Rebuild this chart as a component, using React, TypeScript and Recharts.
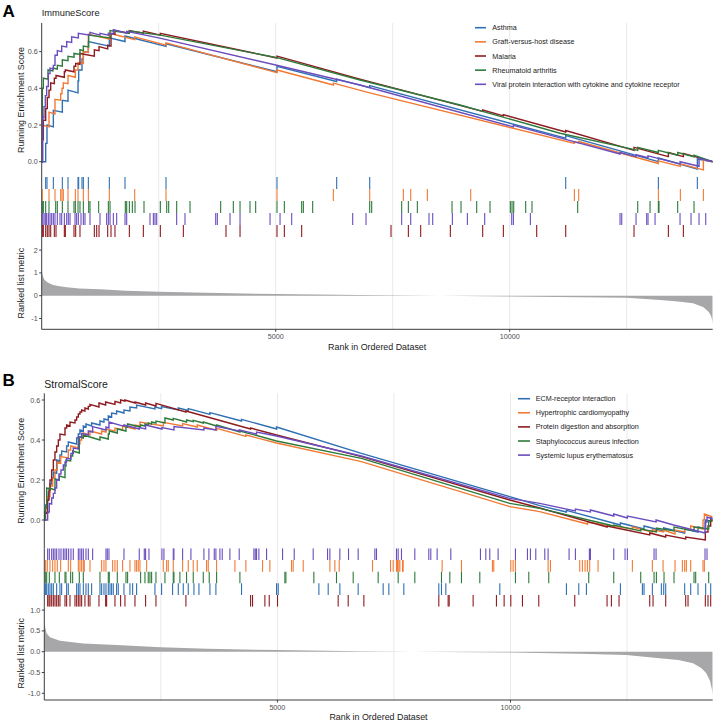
import React from 'react';
import { LineChart, Line, XAxis, YAxis, ReferenceLine, ScatterChart, Scatter, AreaChart, Area } from 'recharts';

const W = 719;
const H = 727;
const N_RANKS = 14338;
const GRID_RANKS = [2500, 5000, 7500, 10000, 12500];
const RANK_TICKS = [5000, 10000];
const ES_TICKS = [0, 0.2, 0.4, 0.6];

// ---------------- Panel A : ImmuneScore ----------------
const termsA = ['Asthma', 'Graft-versus-host disease', 'Malaria', 'Rheumatoid arthritis', 'Viral protein interaction with cytokine and cytokine receptor'];
const colorsA = ['#2f6fb3', '#f27a35', '#8e1b1f', '#2d7a3a', '#6a4dbf'];

const esAsthma = [[0,0],[85,0],[85,0.10],[113,0.10],[113,0.20],[249,0.19],[249,0.28],[441,0.27],[441,0.335],[562,0.33],[562,0.39],[776,0.375],[776,0.44],[790,0.44],[790,0.50],[861,0.50],[861,0.56],[890,0.56],[890,0.60],[997,0.595],[997,0.655],[1445,0.63],[1445,0.675],[1780,0.655],[1780,0.685],[2656,0.628],[2656,0.643],[5028,0.49],[5028,0.52],[6303,0.437],[6303,0.45],[7009,0.404],[7009,0.415],[11197,0.128],[11197,0.142],[13177,0.0],[13177,0.02],[14010,-0.04],[14010,0.015],[14338,0.0]];
const esGraft = [[0,0],[14,0],[14,0.20],[156,0.19],[156,0.27],[284,0.26],[284,0.34],[405,0.335],[405,0.37],[434,0.37],[434,0.40],[462,0.40],[462,0.43],[562,0.425],[562,0.47],[719,0.46],[719,0.50],[776,0.50],[776,0.54],[890,0.535],[890,0.60],[997,0.595],[997,0.695],[1445,0.668],[1445,0.70],[1987,0.665],[1987,0.68],[2656,0.635],[2656,0.648],[5028,0.485],[5028,0.50],[6232,0.418],[6232,0.428],[7009,0.375],[11382,0.10],[11382,0.108],[11475,0.103],[11475,0.11],[13177,-0.01],[13177,0.005],[13647,-0.026],[13647,-0.012],[14139,-0.045],[14139,0.01],[14338,0.0]];
const esMalaria = [[0,0],[14,0],[14,0.12],[35,0.12],[35,0.227],[85,0.225],[85,0.29],[120,0.29],[120,0.35],[156,0.35],[156,0.39],[192,0.39],[192,0.43],[270,0.425],[270,0.455],[306,0.455],[306,0.47],[484,0.46],[484,0.49],[505,0.49],[505,0.50],[690,0.49],[690,0.52],[726,0.52],[726,0.536],[818,0.53],[818,0.59],[1125,0.575],[1125,0.61],[1225,0.605],[1225,0.627],[1410,0.615],[1410,0.635],[1481,0.63],[1481,0.70],[1566,0.695],[1566,0.715],[1873,0.70],[1873,0.715],[2172,0.70],[2172,0.712],[2535,0.69],[2535,0.70],[5028,0.565],[5028,0.575],[6802,0.45],[9423,0.274],[9423,0.282],[9865,0.25],[9865,0.256],[11197,0.162],[11197,0.17],[12657,0.062],[12657,0.078],[13391,0.028],[13391,0.05],[13711,0.028],[13711,0.045],[14338,0.0]];
const esRheum = [[0,0],[14,0],[14,0.40],[35,0.40],[35,0.455],[135,0.45],[135,0.50],[240,0.495],[240,0.51],[334,0.505],[334,0.525],[441,0.52],[441,0.555],[562,0.55],[562,0.575],[690,0.57],[690,0.59],[818,0.585],[818,0.61],[890,0.605],[890,0.63],[1004,0.625],[1004,0.69],[1460,0.675],[1460,0.715],[1873,0.70],[1873,0.712],[2535,0.69],[5028,0.567],[6802,0.445],[8939,0.309],[11076,0.155],[12500,0.075],[12736,0.062],[12736,0.078],[13177,0.05],[13177,0.062],[13590,0.035],[13590,0.05],[13939,0.026],[13939,0.035],[14338,0.0]];
const esViral = [[0,0],[21,0],[21,0.245],[49,0.24],[49,0.30],[78,0.30],[78,0.36],[106,0.36],[106,0.41],[142,0.41],[142,0.48],[177,0.48],[177,0.51],[249,0.505],[249,0.525],[284,0.525],[284,0.58],[334,0.58],[334,0.605],[427,0.60],[427,0.63],[534,0.625],[534,0.655],[640,0.65],[640,0.68],[783,0.675],[783,0.70],[1032,0.69],[1032,0.705],[1246,0.69],[1246,0.70],[1424,0.69],[1424,0.70],[1531,0.695],[1531,0.72],[1816,0.70],[1816,0.71],[2500,0.675],[5000,0.527],[6802,0.418],[10079,0.19],[10079,0.198],[11076,0.13],[12358,0.042],[12358,0.05],[12700,0.028],[12700,0.038],[12956,0.022],[12956,0.032],[13640,-0.012],[13640,0.0],[14046,-0.025],[14046,0.018],[14338,0.0]];

const hitsAsthma = [85,113,249,441,562,776,790,861,890,997,1445,1780,2656,5028,6303,7009,11197,13177,14010];
const hitsGraft = [14,156,284,405,434,462,562,719,776,890,997,1445,1987,2656,5028,6232,7009,7728,7885,8241,9167,11382,11475,13177,13647,14139];
const hitsMalaria = [14,35,85,120,156,192,270,306,484,505,690,726,818,1125,1175,1225,1410,1481,1566,1873,2172,2535,3027,3938,4238,5028,5185,5555,7464,7835,8098,8732,9423,9865,10577,11197,12657,13391,13711];
const hitsRheum = [14,35,85,156,299,334,441,562,690,719,776,818,890,1004,1032,1217,1424,1460,1787,1816,1873,1937,1994,2186,2535,2671,2713,2884,3169,3824,4095,4238,4451,4572,5028,5185,5555,5591,5790,7009,7051,7692,7835,8027,8768,8960,9295,9580,10014,10050,10086,10342,10477,11453,12736,12999,13177,13191,13590,13939];
const hitsViral = [21,49,78,106,142,177,213,249,284,334,391,427,484,534,569,605,712,747,783,840,890,925,1032,1246,1388,1424,1460,1531,1602,1780,1816,2314,2386,2421,2457,2884,3062,3718,3753,4024,4238,4879,5093,5342,6645,6930,7692,7885,8276,8355,8775,9096,9466,10043,10079,10442,12358,12394,12700,12928,12956,13106,13640,13875,14046,14189];
const rugOrderA = [0, 1, 3, 4, 2];

const metricA = [[0,1.25],[5,1.05],[15,0.95],[30,0.83],[60,0.7],[107,0.61],[170,0.53],[249,0.47],[350,0.42],[534,0.37],[800,0.32],[1246,0.28],[1800,0.22],[2500,0.175],[3500,0.125],[5000,0.075],[6802,0.03],[8500,0.0],[10000,-0.035],[11500,-0.065],[12500,-0.09],[13213,-0.19],[13600,-0.25],[13918,-0.33],[14132,-0.5],[14250,-0.7],[14300,-0.87],[14330,-1.1],[14338,-1.28]];

// ---------------- Panel B : StromalScore ----------------
const termsB = ['ECM-receptor interaction', 'Hypertrophic cardiomyopathy', 'Protein digestion and absorption', 'Staphylococcus aureus infection', 'Systemic lupus erythematosus'];
const colorsB = ['#2f6fb3', '#f27a35', '#8e1b1f', '#2d7a3a', '#6a4dbf'];

const esECM = [[0,0],[8,0],[8,0.04],[29,0.04],[29,0.075],[51,0.075],[51,0.10],[86,0.10],[86,0.14],[122,0.14],[122,0.18],[158,0.18],[158,0.21],[194,0.21],[194,0.24],[265,0.235],[265,0.30],[336,0.295],[336,0.325],[372,0.325],[372,0.345],[479,0.34],[479,0.37],[515,0.37],[515,0.39],[694,0.38],[694,0.41],[730,0.41],[730,0.43],[765,0.43],[765,0.45],[837,0.445],[837,0.47],[894,0.465],[894,0.48],[1015,0.47],[1015,0.485],[1194,0.475],[1194,0.495],[1280,0.49],[1280,0.505],[1373,0.50],[1373,0.52],[1444,0.515],[1444,0.535],[1551,0.53],[1551,0.545],[1709,0.535],[1709,0.55],[1837,0.545],[1837,0.565],[1980,0.56],[1980,0.575],[2373,0.555],[2373,0.565],[2516,0.557],[2516,0.567],[2874,0.55],[2874,0.56],[3088,0.548],[3088,0.557],[3553,0.528],[3553,0.537],[4231,0.495],[4231,0.503],[4982,0.455],[4982,0.465],[6802,0.333],[9985,0.117],[10628,0.072],[11200,0.04],[11200,0.048],[12358,-0.025],[12358,-0.015],[12865,-0.045],[12865,-0.03],[13287,-0.055],[13287,-0.04],[13737,-0.065],[13737,-0.045],[14023,-0.06],[14023,-0.035],[14187,-0.045],[14187,0.0],[14295,-0.005],[14295,0.02],[14338,0.0]];
const esHyper = [[0,0],[29,0],[29,0.06],[65,0.06],[65,0.117],[122,0.117],[122,0.17],[179,0.17],[179,0.21],[229,0.21],[229,0.25],[279,0.25],[279,0.29],[351,0.285],[351,0.317],[515,0.31],[515,0.35],[565,0.35],[565,0.37],[730,0.36],[730,0.38],[765,0.38],[765,0.40],[801,0.40],[801,0.42],[837,0.42],[837,0.435],[980,0.425],[980,0.445],[1230,0.43],[1230,0.445],[1323,0.44],[1323,0.455],[1516,0.445],[1516,0.46],[1680,0.452],[1680,0.47],[1945,0.455],[1945,0.475],[2052,0.47],[2052,0.49],[2552,0.47],[2552,0.488],[2967,0.47],[2967,0.482],[3281,0.465],[3281,0.475],[3696,0.448],[3696,0.458],[4324,0.418],[4324,0.425],[4982,0.385],[6802,0.292],[9985,0.067],[10628,0.042],[11650,-0.02],[11650,-0.012],[12615,-0.045],[12615,-0.035],[13044,-0.06],[13044,-0.048],[13273,-0.06],[13273,-0.05],[13530,-0.07],[13530,-0.05],[13737,-0.06],[13737,-0.04],[13866,-0.05],[13866,-0.03],[14130,-0.045],[14130,0.0],[14159,0.0],[14159,0.03],[14338,0.015]];
const esProtein = [[0,0],[15,0],[15,0.04],[72,0.035],[72,0.10],[101,0.10],[101,0.15],[122,0.15],[122,0.20],[158,0.20],[158,0.25],[194,0.25],[194,0.30],[229,0.30],[229,0.34],[265,0.34],[265,0.37],[301,0.37],[301,0.40],[336,0.40],[336,0.43],[444,0.425],[444,0.46],[479,0.46],[479,0.475],[551,0.47],[551,0.49],[658,0.485],[658,0.50],[694,0.50],[694,0.515],[730,0.515],[730,0.53],[765,0.53],[765,0.54],[801,0.54],[801,0.55],[872,0.545],[872,0.56],[944,0.555],[944,0.568],[980,0.568],[980,0.578],[1173,0.565],[1173,0.585],[1316,0.575],[1316,0.59],[1516,0.578],[1516,0.593],[1637,0.585],[1637,0.60],[1730,0.595],[1730,0.60],[1945,0.585],[1945,0.59],[2173,0.575],[2173,0.585],[2395,0.57],[2395,0.583],[3038,0.54],[3038,0.545],[4425,0.455],[4425,0.46],[4982,0.425],[6802,0.317],[9985,0.10],[10628,0.06],[12072,-0.035],[12072,-0.03],[12486,-0.05],[12987,-0.075],[12987,-0.065],[13330,-0.085],[13330,-0.075],[13759,-0.095],[13759,-0.085],[14180,-0.10],[14180,-0.06],[14237,-0.06],[14237,-0.03],[14295,-0.03],[14295,0.0],[14338,-0.005]];
const esStaph = [[0,0],[22,0],[22,0.06],[51,0.06],[51,0.16],[108,0.155],[108,0.16],[229,0.15],[229,0.205],[322,0.2],[322,0.22],[444,0.212],[444,0.27],[465,0.27],[465,0.30],[565,0.295],[565,0.32],[608,0.32],[608,0.345],[751,0.335],[751,0.415],[837,0.41],[837,0.425],[1194,0.40],[1194,0.415],[1373,0.405],[1373,0.43],[1394,0.43],[1394,0.445],[1566,0.435],[1566,0.455],[1752,0.445],[1752,0.465],[1787,0.465],[1787,0.48],[2066,0.465],[2066,0.475],[2159,0.47],[2159,0.48],[2230,0.475],[2230,0.485],[2302,0.48],[2302,0.49],[2395,0.485],[2395,0.495],[2588,0.485],[2588,0.51],[2766,0.50],[2766,0.508],[3052,0.49],[3052,0.50],[3195,0.492],[3195,0.498],[3410,0.485],[3410,0.49],[3696,0.47],[3696,0.475],[4196,0.44],[4196,0.445],[4982,0.395],[6802,0.308],[9985,0.083],[10628,0.058],[12215,-0.03],[12215,-0.025],[12794,-0.055],[12794,-0.045],[13130,-0.06],[13130,-0.04],[13508,-0.055],[13508,-0.035],[13937,-0.055],[13937,-0.035],[14252,-0.045],[14252,-0.005],[14338,-0.005]];
const esSLE = [[0,0],[72,0],[72,0.04],[108,0.04],[108,0.083],[158,0.08],[158,0.11],[194,0.11],[194,0.133],[229,0.133],[229,0.16],[265,0.16],[265,0.2],[315,0.2],[315,0.23],[358,0.23],[358,0.25],[408,0.25],[408,0.275],[444,0.275],[444,0.29],[479,0.29],[479,0.308],[572,0.305],[572,0.333],[622,0.333],[622,0.36],[730,0.355],[730,0.417],[801,0.415],[801,0.433],[944,0.425],[944,0.445],[1037,0.44],[1037,0.467],[1323,0.45],[1323,0.465],[1387,0.46],[1387,0.49],[1709,0.468],[1709,0.475],[2037,0.455],[2037,0.462],[2173,0.455],[2173,0.475],[2523,0.455],[2523,0.462],[2781,0.45],[2781,0.467],[3424,0.45],[3424,0.46],[3681,0.45],[3681,0.468],[4181,0.445],[4181,0.45],[4553,0.43],[4553,0.44],[4982,0.42],[6802,0.32],[9985,0.108],[10628,0.083],[11393,0.045],[11393,0.055],[11715,0.04],[11715,0.05],[12215,0.02],[12215,0.03],[12508,0.01],[12508,0.02],[13123,-0.01],[13123,0.0],[13500,-0.025],[14173,-0.065],[14173,-0.01],[14216,-0.01],[14216,0.015],[14338,0.005]];

const hitsECM = [8,29,51,86,122,158,194,265,336,372,479,515,694,730,765,837,894,944,1015,1194,1230,1280,1323,1373,1409,1444,1480,1551,1587,1709,1837,1895,1980,2373,2516,2752,2874,2981,3088,3210,3317,3553,3681,4231,4982,5018,5890,6090,6340,6733,7269,7391,7712,8463,8520,8613,9771,11200,11465,11629,12358,12830,12865,13044,13237,13287,13330,13737,13866,14023,14187,14295];
const hitsHyper = [29,65,122,179,229,279,351,515,565,730,765,801,837,858,980,1230,1280,1323,1466,1516,1566,1680,1837,1945,1980,2016,2052,2195,2552,2624,2659,2766,2967,3088,3195,3281,3481,3517,3696,4089,4324,4682,4839,5304,5339,5554,6126,6233,6326,7041,7427,7484,7555,7577,7605,7627,7684,7698,8534,8949,9613,9642,10007,10057,10107,10807,10857,11486,11543,11600,11650,11700,11879,12615,13044,13273,13530,13687,13737,13773,13866,14130,14159];
const hitsProtein = [72,101,122,158,194,229,265,301,336,444,479,551,658,694,730,765,801,872,944,980,1173,1316,1337,1516,1637,1730,1945,2173,2395,3038,4425,4467,4732,4825,5003,6304,6519,6855,8463,8663,8685,9199,9699,9864,10007,10257,10607,11379,12072,12165,12329,12987,13058,13330,13759,13809,14180,14237,14295];
const hitsStaph = [22,51,108,229,322,444,465,565,608,751,837,1194,1373,1394,1566,1752,1787,2066,2159,2230,2266,2302,2395,2588,2766,2781,2909,3052,3195,3410,3538,3696,4196,5161,5182,5782,6268,6626,7162,7591,7948,8520,8699,8949,9342,10107,10393,10821,11679,12215,12794,13080,13130,13294,13508,13937,13973,14252];
const hitsSLE = [72,108,158,194,229,265,315,358,408,444,479,522,572,622,730,765,801,837,894,944,1037,1323,1351,1387,1709,2037,2145,2173,2245,2523,2566,2766,2781,2967,3145,3424,3531,3646,3681,3767,3817,3981,4181,4496,4525,4553,4603,4768,5111,5361,5768,6076,6126,6340,6526,6733,7091,7126,7555,7591,7662,7948,8248,8291,8427,8720,9356,9471,9556,9735,10107,10364,10428,10543,10736,10807,11257,11393,11693,11715,12215,12458,12508,13080,13123,14173,14216];
const rugOrderB = [4, 1, 3, 0, 2];

const metricB = [[0,0.8],[8,0.64],[51,0.44],[122,0.35],[336,0.265],[837,0.2],[1551,0.16],[2500,0.105],[3500,0.07],[4982,0.04],[6769,0.01],[8500,-0.005],[10000,-0.02],[11500,-0.05],[12486,-0.08],[13200,-0.16],[13600,-0.2],[13916,-0.28],[14100,-0.4],[14200,-0.52],[14280,-0.7],[14309,-0.84],[14330,-0.95],[14338,-1.06]];

// ---------------- helpers ----------------
type Pt = { x: number; y: number };
const toPts = (a: number[][]): Pt[] => a.map(([x, y]) => ({ x, y }));

const AXIS_W = 30;
const X_AXIS_H = 24;
const AXIS_COLOR = '#3d3d3d';
const GRID_COLOR = '#e9e9e9';
const TICK_STYLE = { fontSize: 7.2, fill: '#4d4d4d' };
const FONT = '"Liberation Sans", Arial, Helvetica, sans-serif';

const panelA = {
  letter: 'A', title: 'ImmuneScore', titleSize: 9.3, titleY: 16, letterY: 16.8,
  plotLeft: 41.7, plotRight: 712.7,
  esTop: 23, rugTop: 177, rankTop: 237, rankBottom: 329.3,
  esDomain: [-0.0834, 0.7559], metricDomain: [-1.4737, 2.5746], metricTicks: [-1, 0, 1, 2],
  metricFmt: (v: number) => String(v),
  yLabelOffset: 9.5, xLabelOffset: 3.4,
  series: [esAsthma, esGraft, esMalaria, esRheum, esViral].map((es, i) => ({ name: termsA[i], color: colorsA[i], es: toPts(es) })),
  hits: [hitsAsthma, hitsGraft, hitsMalaria, hitsRheum, hitsViral],
  rugOrder: rugOrderA,
  metric: toPts(metricA),
  legend: { x1: 475, x2: 486, tx: 492.3, y0: 27.7, dy: 14.15 },
};

const panelB = {
  letter: 'B', title: 'StromalScore', titleSize: 10.5, titleY: 387.5, letterY: 386.3,
  plotLeft: 44.3, plotRight: 712.7,
  esTop: 393.3, rugTop: 548.3, rankTop: 606.7, rankBottom: 700,
  esDomain: [-0.1415, 0.6335], metricDomain: [-1.161, 1.0817], metricTicks: [-1, -0.5, 0, 0.5, 1],
  metricFmt: (v: number) => v.toFixed(1),
  yLabelOffset: 6.9, xLabelOffset: 3.7,
  series: [esECM, esHyper, esProtein, esStaph, esSLE].map((es, i) => ({ name: termsB[i], color: colorsB[i], es: toPts(es) })),
  hits: [hitsECM, hitsHyper, hitsProtein, hitsStaph, hitsSLE],
  rugOrder: rugOrderB,
  metric: toPts(metricB),
  legend: { x1: 518, x2: 530, tx: 535.7, y0: 398.7, dy: 14.1 },
};

const Layer = ({ children }: { children: React.ReactNode }) => (
  <div style={{ position: 'absolute', left: 0, top: 0, width: W, height: H }}>{children}</div>
);

function Panel({ p }: { p: typeof panelA }) {
  const right = W - p.plotRight;
  const lm = p.plotLeft - AXIS_W;
  const half = (p.rankTop - p.rugTop) / 10;
  return (
    <>
      {/* vertical grid layer */}
      <Layer>
        <LineChart width={W} height={H} data={p.metric} margin={{ top: p.esTop, bottom: H - p.rankBottom, left: p.plotLeft, right }}>
          <XAxis hide type="number" dataKey="x" domain={[0, N_RANKS]} allowDataOverflow />
          <YAxis hide type="number" domain={[-2, 3]} allowDataOverflow />
          {GRID_RANKS.map((g) => (
            <ReferenceLine key={g} x={g} stroke={GRID_COLOR} strokeWidth={1} />
          ))}
        </LineChart>
      </Layer>

      {/* running enrichment score */}
      <Layer>
        <LineChart width={W} height={H} margin={{ top: p.esTop, bottom: H - p.rugTop, left: lm, right }}>
          <XAxis hide type="number" dataKey="x" domain={[0, N_RANKS]} allowDataOverflow />
          <YAxis
            type="number"
            domain={p.esDomain}
            ticks={ES_TICKS}
            interval={0}
            allowDataOverflow
            width={AXIS_W}
            tickFormatter={(v: number) => v.toFixed(1)}
            tick={TICK_STYLE}
            tickSize={2.5}
            tickMargin={1.5}
            stroke={AXIS_COLOR}
            label={{ value: 'Running Enrichment Score', angle: -90, position: 'insideLeft', offset: p.yLabelOffset, fill: '#1a1a1a', style: { textAnchor: 'middle', fontSize: 8.9, fill: '#1a1a1a' } }}
          />
          {p.series.map((s) => (
            <Line key={s.name} data={s.es} dataKey="y" name={s.name} type="linear" stroke={s.color} strokeWidth={1.4} dot={false} activeDot={false} isAnimationActive={false} />
          ))}
        </LineChart>
      </Layer>

      {/* rug of hits */}
      <Layer>
        <ScatterChart width={W} height={H} margin={{ top: p.rugTop, bottom: H - p.rankTop, left: lm, right }}>
          <XAxis hide type="number" dataKey="x" domain={[0, N_RANKS]} allowDataOverflow />
          <YAxis type="number" dataKey="y" domain={[0, 5]} allowDataOverflow width={AXIS_W} tick={false} tickLine={false} stroke={AXIS_COLOR} />
          {p.rugOrder.map((si, row) => {
            const s = p.series[si];
            const data = p.hits[si].map((x) => ({ x, y: 4.5 - row }));
            return (
              <Scatter
                key={s.name}
                data={data}
                isAnimationActive={false}
                shape={(props: any) => (
                  <line x1={props.cx} x2={props.cx} y1={props.cy - half} y2={props.cy + half} stroke={s.color} strokeWidth={1.1} />
                )}
              />
            );
          })}
        </ScatterChart>
      </Layer>

      {/* ranked list metric */}
      <Layer>
        <AreaChart width={W} height={H} data={p.metric} margin={{ top: p.rankTop, bottom: H - p.rankBottom - X_AXIS_H, left: lm, right }}>
          <XAxis
            type="number"
            dataKey="x"
            domain={[0, N_RANKS]}
            ticks={RANK_TICKS}
            interval={0}
            allowDataOverflow
            height={X_AXIS_H}
            tick={TICK_STYLE}
            tickSize={2.5}
            tickMargin={2}
            stroke={AXIS_COLOR}
            label={{ value: 'Rank in Ordered Dataset', position: 'insideBottom', offset: p.xLabelOffset, fill: '#1a1a1a', style: { fontSize: 8.9, fill: '#1a1a1a' } }}
          />
          <YAxis
            type="number"
            domain={p.metricDomain}
            ticks={p.metricTicks}
            interval={0}
            allowDataOverflow
            width={AXIS_W}
            tickFormatter={p.metricFmt}
            tick={TICK_STYLE}
            tickSize={2.5}
            tickMargin={1.5}
            stroke={AXIS_COLOR}
            label={{ value: 'Ranked list metric', angle: -90, position: 'insideLeft', offset: p.yLabelOffset, fill: '#1a1a1a', style: { textAnchor: 'middle', fontSize: 8.9, fill: '#1a1a1a' } }}
          />
          <Area dataKey="y" type="linear" stroke="none" fill="#a7a7a9" fillOpacity={1} baseValue={0} isAnimationActive={false} />
        </AreaChart>
      </Layer>

      {/* letter, title and legend */}
      <Layer>
        <svg width={W} height={H} style={{ position: 'absolute', left: 0, top: 0 }}>
          <text x={2.5} y={p.letterY} fontSize={17} fontWeight="bold" fill="#000">{p.letter}</text>
          <text x={p.plotLeft} y={p.titleY} fontSize={p.titleSize} fill="#1a1a1a">{p.title}</text>
          {p.series.map((s, i) => {
            const y = p.legend.y0 + i * p.legend.dy;
            return (
              <g key={s.name}>
                <line x1={p.legend.x1} x2={p.legend.x2} y1={y} y2={y} stroke={s.color} strokeWidth={1.6} />
                <text x={p.legend.tx} y={y} dy="0.35em" fontSize={7.2} fill="#1a1a1a">{s.name}</text>
              </g>
            );
          })}
        </svg>
      </Layer>
    </>
  );
}

export default function App() {
  return (
    <div style={{ position: 'absolute', left: 0, top: 0, width: W, height: H, background: '#ffffff', fontFamily: FONT, overflow: 'hidden' }}>
      <Panel p={panelA} />
      <Panel p={panelB} />
    </div>
  );
}
